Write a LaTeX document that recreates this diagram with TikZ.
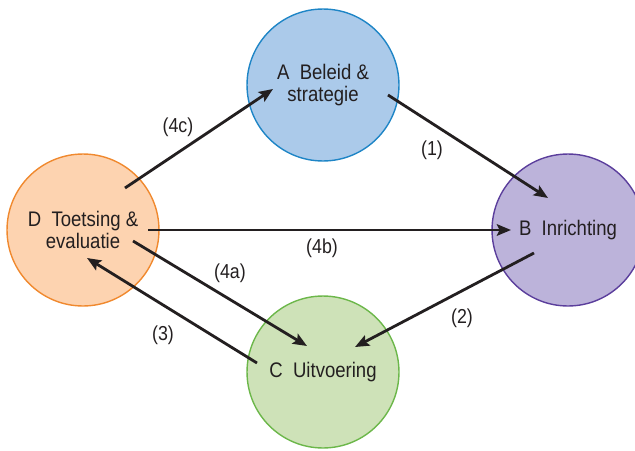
\documentclass[tikz,border=0pt]{standalone}
\usepackage{fontspec}
\setmainfont[FakeStretch=0.88]{Liberation Sans}
\usepackage{tikz}
\usetikzlibrary{calc, arrows.meta, positioning}

\definecolor{tekst}{HTML}{231F20}
\definecolor{blauwrand}{HTML}{1E85C6}
\definecolor{blauwvlak}{HTML}{ABCAEA}
\definecolor{paarsrand}{HTML}{5B3E9C}
\definecolor{paarsvlak}{HTML}{BCB3DA}
\definecolor{groenrand}{HTML}{6CB74A}
\definecolor{groenvlak}{HTML}{CEE2B8}
\definecolor{oranjerand}{HTML}{F0892E}
\definecolor{oranjevlak}{HTML}{FDD3B0}

\tikzset{
	fase/.style={circle, minimum size=3.04cm, inner sep=0pt, line width=0.8pt, align=center, text=tekst, font=\fontsize{12}{13}\selectfont},
	pijl/.style={draw=tekst, line width=1.6pt, -{Stealth[length=8pt, width=6.5pt, inset=1.5pt]}},
	label/.style={text=tekst, font=\fontsize{11.5}{13}\selectfont}
}

\begin{document}
\begin{tikzpicture}[x=0.02cm, y=-0.02cm]
	\useasboundingbox (0,0) rectangle (635,450);

	\node [fase, draw=blauwrand, fill=blauwvlak] (A) at (323,85) {A~~Beleid \&\\strategie};
	\node [fase, draw=paarsrand, fill=paarsvlak] (B) at (568,230) {B~~Inrichting};
	\node [fase, draw=groenrand, fill=groenvlak] (C) at (323,372) {C~~Uitvoering};
	\node [fase, draw=oranjerand, fill=oranjevlak] (D) at (83,230) {D~~Toetsing \&\\evaluatie};

	\draw [pijl] ($(D)+(42,-42)$) -- ($(A)+(-50,4)$);
	\draw [pijl] ($(A)+(65,10)$) -- ($(B)+(-20,-32)$);
	\draw [pijl] ($(D)+(65,0)$) -- ($(B)+(-57,0)$);
	\draw [pijl] ($(B)+(-34,23)$) -- ($(C)+(32,-25)$);
	\draw [pijl] ($(D)+(50,11)$) -- ($(C)+(-16,-26)$);
	\draw [pijl] ($(C)+(-66,-9)$) -- ($(D)+(4,28)$);

	\node [label] (l4c) at (178,127) {(4c)};
	\node [label] (l1) at (432,150) {(1)};
	\node [label] (l4b) at (322,248) {(4b)};
	\node [label] (l2) at (462,318) {(2)};
	\node [label] (l4a) at (230,273) {(4a)};
	\node [label] (l3) at (163,335) {(3)};
\end{tikzpicture}
\end{document}
